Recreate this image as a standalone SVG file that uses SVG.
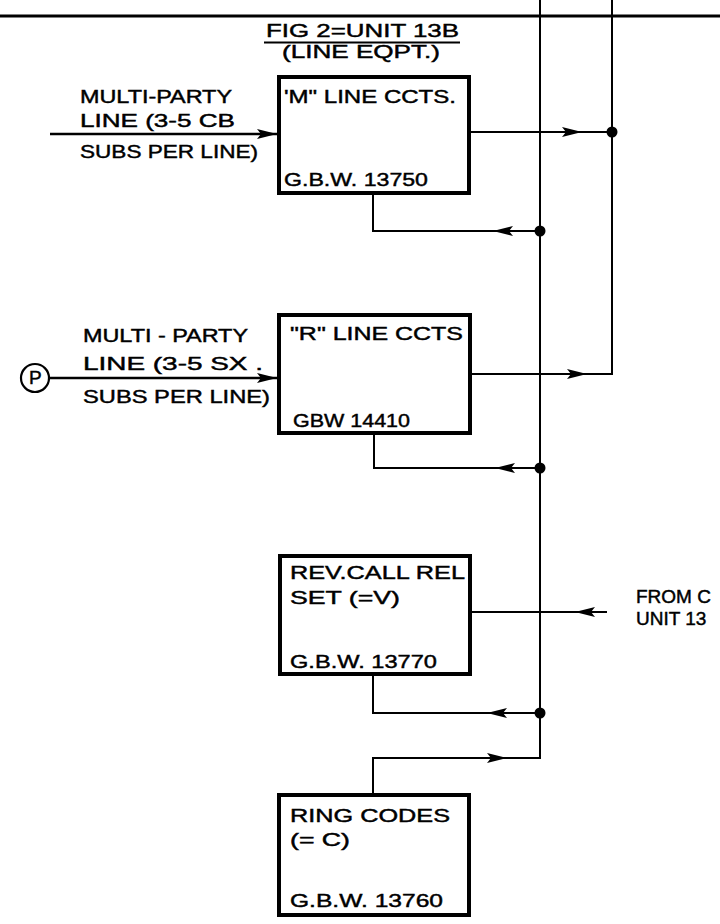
<svg xmlns="http://www.w3.org/2000/svg" xmlns:xlink="http://www.w3.org/1999/xlink" width="720" height="924" viewBox="0 0 720 924">
<style>
  text { font-family: "Liberation Sans", Arial, sans-serif; font-size: 19px; fill: #000; stroke: #000; stroke-width: 0.45; }
  .box { fill: #fff; stroke: #000; stroke-width: 4; }
  .ln { fill: none; stroke: #000; stroke-width: 2; }
  .in { fill: none; stroke: #000; stroke-width: 2.6; }
  .dot { fill: #000; }
</style>
<defs>
  <path id="ah" d="M0,0 L-20,-5 L-16,0 L-20,5 Z" fill="#000"/>
</defs>
<rect x="0" y="0" width="720" height="924" fill="#fff"/>

<g id="title">
  <text x="266" y="37" textLength="193" lengthAdjust="spacingAndGlyphs" font-size="16">FIG 2=UNIT 13B</text>
  <line x1="264" y1="42.5" x2="460" y2="42.5" stroke="#000" stroke-width="2"/>
  <text x="282" y="58" textLength="158" lengthAdjust="spacingAndGlyphs" font-size="16">(LINE EQPT.)</text>
</g>

<g id="connectors">
  <line x1="0" y1="16" x2="720" y2="16" stroke="#000" stroke-width="3"/>
  <line class="ln" x1="540" y1="0" x2="540" y2="759"/>
  <line class="ln" x1="612" y1="0" x2="612" y2="375"/>
  <line class="in" x1="50" y1="134" x2="277" y2="134"/>
  <use xlink:href="#ah" transform="translate(277,134)"/>
  <line class="ln" x1="471" y1="132" x2="612" y2="132"/>
  <use xlink:href="#ah" transform="translate(582,132)"/>
  <circle class="dot" cx="612" cy="132" r="5.5"/>
  <polyline class="ln" points="373,195 373,231 540,231"/>
  <use xlink:href="#ah" transform="translate(493,231) rotate(180)"/>
  <circle class="dot" cx="540" cy="231" r="5.5"/>
  <circle cx="35" cy="378" r="14" fill="none" stroke="#000" stroke-width="2.2"/>
  <text x="29" y="384" font-size="15">P</text>
  <line class="in" x1="49" y1="378" x2="277" y2="378"/>
  <use xlink:href="#ah" transform="translate(277,378)"/>
  <line class="ln" x1="472" y1="374" x2="613" y2="374"/>
  <use xlink:href="#ah" transform="translate(587,374)"/>
  <polyline class="ln" points="374,435 374,468 540,468"/>
  <use xlink:href="#ah" transform="translate(495,468) rotate(180)"/>
  <circle class="dot" cx="540" cy="468" r="5.5"/>
  <line class="ln" x1="472" y1="612" x2="607" y2="612"/>
  <use xlink:href="#ah" transform="translate(575,612) rotate(180)"/>
  <polyline class="ln" points="373,676 373,713 540,713"/>
  <use xlink:href="#ah" transform="translate(487,713) rotate(180)"/>
  <circle class="dot" cx="540" cy="713" r="5.5"/>
  <polyline class="ln" points="373,793 373,758 540,758"/>
  <use xlink:href="#ah" transform="translate(507,758)"/>
</g>

<g id="label-m">
  <text x="80" y="103" textLength="152" lengthAdjust="spacingAndGlyphs">MULTI-PARTY</text>
  <text x="80" y="127" textLength="155" lengthAdjust="spacingAndGlyphs">LINE (3-5 CB</text>
  <text x="80" y="158" textLength="178" lengthAdjust="spacingAndGlyphs">SUBS PER LINE)</text>
</g>

<g id="node-m">
  <rect class="box" x="279" y="77" width="190" height="116"/>
  <text x="284" y="103" textLength="172" lengthAdjust="spacingAndGlyphs">'M" LINE CCTS.</text>
  <text x="284" y="186" textLength="144" lengthAdjust="spacingAndGlyphs">G.B.W. 13750</text>
</g>

<g id="label-r">
  <text x="83" y="342" textLength="165" lengthAdjust="spacingAndGlyphs">MULTI - PARTY</text>
  <text x="83" y="370" textLength="180" lengthAdjust="spacingAndGlyphs">LINE (3-5 SX .</text>
  <text x="83" y="403" textLength="187" lengthAdjust="spacingAndGlyphs">SUBS PER LINE)</text>
</g>

<g id="node-r">
  <rect class="box" x="279" y="315" width="191" height="118"/>
  <text x="290" y="340" textLength="173" lengthAdjust="spacingAndGlyphs">"R" LINE CCTS</text>
  <text x="293" y="427" textLength="117" lengthAdjust="spacingAndGlyphs">GBW 14410</text>
</g>

<g id="node-v">
  <rect class="box" x="280" y="556" width="190" height="118"/>
  <text x="290" y="579" textLength="175" lengthAdjust="spacingAndGlyphs">REV.CALL REL</text>
  <text x="290" y="604" textLength="110" lengthAdjust="spacingAndGlyphs">SET (=V)</text>
  <text x="290" y="668" textLength="147" lengthAdjust="spacingAndGlyphs">G.B.W. 13770</text>
</g>

<g id="label-from">
  <text x="636" y="603">FROM C</text>
  <text x="636" y="625">UNIT 13</text>
</g>

<g id="node-c">
  <rect class="box" x="279" y="795" width="190" height="120"/>
  <text x="290" y="822" textLength="160" lengthAdjust="spacingAndGlyphs">RING CODES</text>
  <text x="290" y="846" textLength="60" lengthAdjust="spacingAndGlyphs">(= C)</text>
  <text x="290" y="907" textLength="153" lengthAdjust="spacingAndGlyphs">G.B.W. 13760</text>
</g>
</svg>
